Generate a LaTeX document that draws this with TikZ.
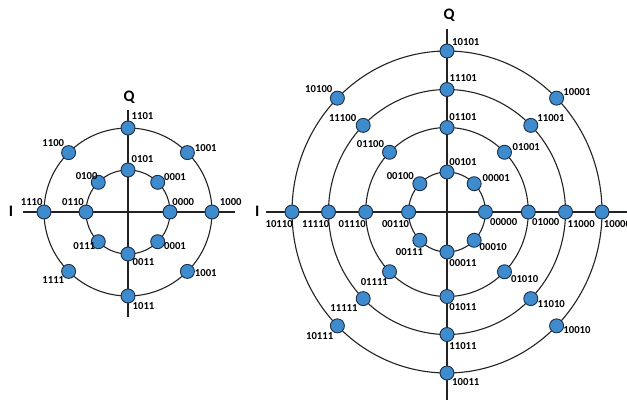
\documentclass[tikz,border=0pt]{standalone}
\usepackage{fontspec}
\setmainfont{Carlito}
\usetikzlibrary{calc}
\definecolor{dotfill}{RGB}{62,140,205}
\definecolor{dotline}{RGB}{30,45,70}
\definecolor{ringcol}{RGB}{35,35,35}
\begin{document}
\begin{tikzpicture}[x=1pt,y=-1pt,
  dot/.style={circle,fill=dotfill,draw=dotline,line width=0.9pt,minimum size=14pt,inner sep=0pt},
  lbl/.style={inner sep=0pt,font=\bfseries\fontsize{10.7}{12}\selectfont},
  axlbl/.style={inner sep=0pt,font=\bfseries\fontsize{16}{18}\selectfont},
  ring/.style={draw=ringcol,line width=1.1pt},
  axis/.style={draw=ringcol,line width=1.1pt}]
\useasboundingbox (0,0) rectangle (627,400);
\clip (0,0) rectangle (627,400);
% ---------------- left constellation ----------------
\coordinate (LC) at (128,212);
\draw[ring] (LC) circle [radius=42pt];
\draw[ring] (LC) circle [radius=84pt];
\coordinate (LIa) at (22.7,212);
\coordinate (LIb) at (235,212);
\coordinate (LQa) at (128,110);
\coordinate (LQb) at (128,317);
\draw[axis] (LIa) -- (LIb);
\draw[axis] (LQa) -- (LQb);
\node[axlbl] (LQ) at (129,97) {Q};
\node[axlbl] (LI) at (11,211) {I};
\foreach \a/\t/\dx/\dy [count=\i] in {90/1101/14.5/-12.3, 45/1001/18.4/-4.6, 0/1000/18.8/-9.7, -45/1001/18.4/2, -90/1011/15.5/10, -135/1111/-15.3/8.6, 180/1110/-12.3/-10, 135/1100/-15.3/-9.3}{
  \node[dot] (LO\i) at ($(LC)+({84*cos(\a)},{-84*sin(\a)})$) {};
  \node[lbl] (LOt\i) at ($(LO\i)+(\dx,\dy)$) {\t};
}
\foreach \a/\t/\dx/\dy [count=\i] in {90/0101/14.5/-10.7, 45/0001/17.3/-5, 0/0000/13.3/-9.7, -45/0001/17.3/4, -90/0011/15.5/7.7, -135/0111/-14/4, 180/0110/-13/-9.7, 135/0100/-11.7/-6.3}{
  \node[dot] (LN\i) at ($(LC)+({42*cos(\a)},{-42*sin(\a)})$) {};
  \node[lbl] (LNt\i) at ($(LN\i)+(\dx,\dy)$) {\t};
}
% ---------------- right constellation ----------------
\coordinate (RC) at (447,212);
\draw[ring] (RC) ellipse [x radius=38.4pt, y radius=40pt];
\draw[ring] (RC) ellipse [x radius=81.3pt, y radius=84.5pt];
\draw[ring] (RC) ellipse [x radius=118.5pt, y radius=122.5pt];
\draw[ring] (RC) ellipse [x radius=155pt, y radius=161pt];
\coordinate (RIa) at (266,212);
\coordinate (RIb) at (627,212);
\coordinate (RQa) at (447,29);
\coordinate (RQb) at (447,400);
\draw[axis] (RIa) -- (RIb);
\draw[axis] (RQa) -- (RQb);
\node[axlbl] (RQ) at (449,15) {Q};
\node[axlbl] (RI) at (257.3,211) {I};
\foreach \a/\t/\dx/\dy [count=\i] in {90/00101/16/-10.3, 45/00001/22.1/-6, 0/00000/18.3/9.7, -45/00010/19.1/6.4, -90/00011/16/11.3, -135/00111/-10.4/11.4, 180/00110/-13/12, 135/00100/-19.5/-7.6}{
  \node[dot] (RA\i) at ($(RC)+({38.4*cos(\a)},{-40*sin(\a)})$) {};
  \node[lbl] (RAt\i) at ($(RA\i)+(\dx,\dy)$) {\t};
}
\foreach \a/\t/\dx/\dy [count=\i] in {90/01101/16/-10.2, 45/01001/21.8/-5.5, 0/01000/17.5/10.3, -45/01010/20.2/7.2, -90/01011/16/10.8, -135/01111/-15.2/10, 180/01110/-13.5/12, 135/01100/-19/-8.3}{
  \node[dot] (RB\i) at ($(RC)+({81.3*cos(\a)},{-84.5*sin(\a)})$) {};
  \node[lbl] (RBt\i) at ($(RB\i)+(\dx,\dy)$) {\t};
}
\foreach \a/\t/\dx/\dy [count=\i] in {90/11101/16.3/-11.8, 45/11001/20.2/-7.1, 0/11000/15.7/12, -45/11010/20.5/5.7, -90/11011/16/11.2, -135/11111/-19.2/9.7, 180/11110/-12.8/12, 135/11100/-20.6/-7.4}{
  \node[dot] (RD\i) at ($(RC)+({118.5*cos(\a)},{-122.5*sin(\a)})$) {};
  \node[lbl] (RDt\i) at ($(RD\i)+(\dx,\dy)$) {\t};
}
\foreach \a/\t/\dx/\dy [count=\i] in {90/10101/18.8/-8.7, 45/10001/20.4/-6.5, 0/10000/15.5/12, -45/10010/20.4/4.2, -90/10011/18.8/8.7, -135/10111/-17.7/9.9, 180/10110/-12.8/12, 135/10100/-18.6/-9}{
  \node[dot] (RE\i) at ($(RC)+({155*cos(\a)},{-161*sin(\a)})$) {};
  \node[lbl] (REt\i) at ($(RE\i)+(\dx,\dy)$) {\t};
}
\end{tikzpicture}
\end{document}
